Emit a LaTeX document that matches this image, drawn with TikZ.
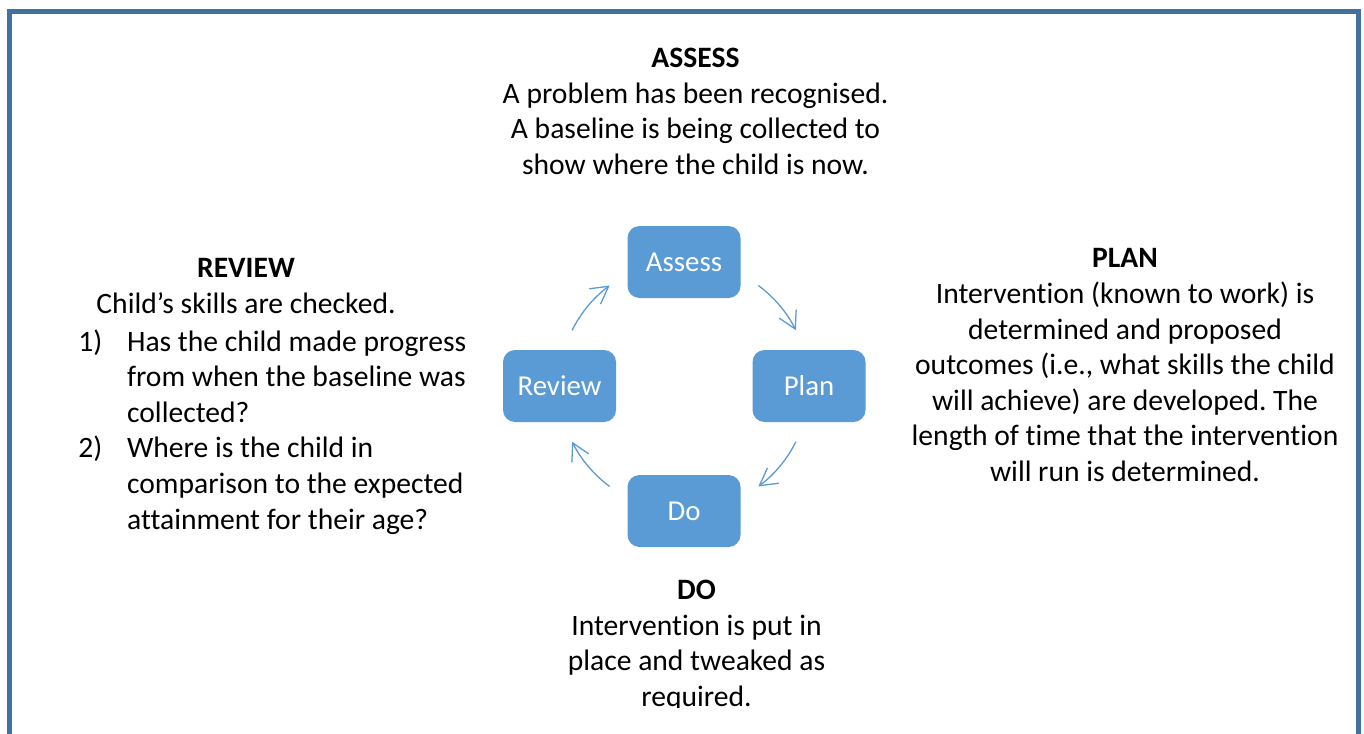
\documentclass[tikz,border=0pt]{standalone}
\usepackage{fontspec}
\setmainfont{Carlito}[Ligatures=NoCommon]
\usepackage{tikz}
\usetikzlibrary{arrows.meta}
\frenchspacing

\definecolor{cycblue}{RGB}{91,155,213}
\definecolor{frameblue}{RGB}{65,113,156}

\tikzset{
	stage/.style={fill=cycblue, rounded corners=6pt, minimum width=56.5pt, minimum height=36pt,
		inner sep=0pt, text=white, font=\fontsize{14.4pt}{17pt}\selectfont},
	cycarrow/.style={draw=cycblue, line width=0.65pt,
		-{Straight Barb[length=8.5pt,width=9.5pt,line width=0.65pt]}},
	% anchored on the baseline of the last line
	blurb/.style={align=center, anchor=base, inner sep=0pt,
		font=\fontsize{14.8pt}{17.8pt}\selectfont},
}

\begin{document}
\begin{tikzpicture}[x=0.5pt,y=0.5pt]
	\useasboundingbox (0,0) rectangle (1364,-733);

	% frame, open at the bottom
	\draw[frameblue, line width=2.5pt] (9.8,-760) -- (9.8,-12) -- (1358,-12) -- (1358,-760);

	% the cycle
	\node[stage] (assess) at (684,-262) {Assess};
	\node[stage] (plan) at (809,-386) {Plan};
	\node[stage] (do) at (684,-511) {Do};
	\node[stage] (review) at (559.5,-386) {Review};

	\coordinate (hub) at (assess |- review);
	\foreach \s/\e in {153.5/126.5, 53.5/26.5, -26.5/-53.5, -126.5/-153.5}
		\draw[cycarrow] ([shift={(\s:125)}]hub) arc[start angle=\s, end angle=\e, radius=125];

	% descriptions
	\node[blurb] (assess-txt) at (695.5,-174.5) {\textbf{ASSESS}\\A problem has been recognised.\\
		A baseline is being collected to\\show where the child is now.};

	\node[blurb] (plan-txt) at (1125,-481.5) {\textbf{PLAN}\\Intervention (known to work) is\\
		determined and proposed\\outcomes (i.e., what skills the child\\
		will achieve) are developed. The\\length of time that the intervention\\
		will run is determined.};

	\node[blurb] (review-txt) at (246,-313.5) {\textbf{REVIEW}\\Child’s skills are checked.};
	\node[blurb, align=left, anchor=base west] (review-list) at (78,-529)
		{\makebox[24.35pt][l]{1)}Has the child made progress\\
		\hspace*{24.35pt}from when the baseline was\\
		\hspace*{24.35pt}collected?\\
		\makebox[24.35pt][l]{2)}Where is the child in\\
		\hspace*{24.35pt}comparison to the expected\\
		\hspace*{24.35pt}attainment for their age?};

	\begin{scope}
		\clip (0,-560) rectangle (1364,-707);
		\node[blurb] (do-txt) at (696.5,-706.5) {\textbf{DO}\\Intervention is put in\\
			place and tweaked as\\required.};
	\end{scope}

\end{tikzpicture}
\end{document}
